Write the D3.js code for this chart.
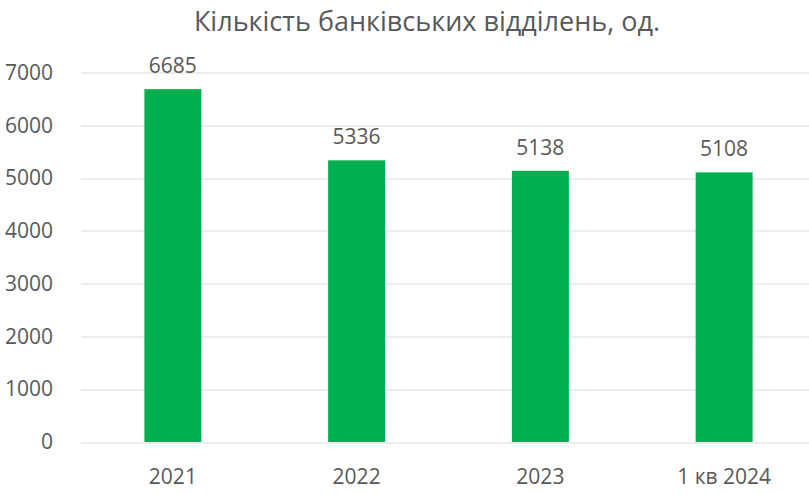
<!DOCTYPE html>
<html>
<head>
<meta charset="utf-8">
<script src="https://cdn.jsdelivr.net/npm/d3@7"></script>
<style>
  body { margin: 0; background: #fff; }
  text { font-family: "Open Sans", sans-serif; fill: #595959; }
</style>
</head>
<body>
<script>
var categories = ['2021', '2022', '2023', '1 кв 2024'];
var branches = [6685, 5336, 5138, 5108];
var yTicks = [0, 1000, 2000, 3000, 4000, 5000, 6000, 7000];
var title = 'Кількість банківських відділень, од.';

var width = 809, height = 494;
var margin = { top: 72.5, right: -7, bottom: 52, left: 81 };
var graphWidth = width - margin.left - margin.right;
var graphHeight = height - margin.top - margin.bottom;

var svg = d3.select('body')
  .append('svg')
  .attr('width', width)
  .attr('height', height);

svg.append('text')
  .attr('x', 427)
  .attr('y', 31)
  .attr('text-anchor', 'middle')
  .style('font-size', '27px')
  .text(title);

var mainGroup = svg.append('g')
  .attr('transform', 'translate(' + margin.left + ',' + margin.top + ')');

var bands = d3.scaleBand()
  .domain(categories)
  .range([0, graphWidth])
  .paddingInner(0.69)
  .paddingOuter(0.345);

var yScale = d3.scaleLinear()
  .domain([0, 7000])
  .range([graphHeight, 0]);

// gridlines
mainGroup.selectAll('line.grid')
  .data(yTicks)
  .enter()
  .append('line')
  .attr('class', 'grid')
  .attr('x1', 0)
  .attr('x2', graphWidth)
  .attr('y1', function(d) { return Math.round(yScale(d)) + 0.5; })
  .attr('y2', function(d) { return Math.round(yScale(d)) + 0.5; })
  .attr('stroke', '#d9d9d9')
  .attr('stroke-width', 1);

// left axis labels
var leftAxis = d3.axisLeft(yScale)
  .tickValues(yTicks)
  .tickFormat(d3.format('d'))
  .tickSize(0)
  .tickPadding(28);
var leftAxisNodes = mainGroup.append('g').call(leftAxis);
leftAxisNodes.select('.domain').remove();
leftAxisNodes.selectAll('text')
  .attr('fill', '#595959')
  .style('font-size', '21px')
  .style('font-family', '"Open Sans", sans-serif');

// bars
var barGroup = mainGroup.selectAll('g.bar')
  .data(branches)
  .enter()
  .append('g')
  .attr('class', 'bar')
  .attr('transform', function(d, i) { return 'translate(' + bands(categories[i]) + ',0)'; });

barGroup.append('rect')
  .attr('y', function(d) { return yScale(d); })
  .attr('width', bands.bandwidth())
  .attr('height', function(d) { return graphHeight - yScale(d); })
  .attr('fill', '#00b050');

barGroup.append('text')
  .attr('x', bands.bandwidth() / 2)
  .attr('y', function(d) { return yScale(d) - 16; })
  .attr('text-anchor', 'middle')
  .style('font-size', '21px')
  .text(function(d) { return d; });

// bottom axis labels
var bottomAxis = d3.axisBottom(bands)
  .tickSize(0)
  .tickPadding(27);
var bottomAxisNodes = mainGroup.append('g')
  .attr('transform', 'translate(0,' + graphHeight + ')')
  .call(bottomAxis);
bottomAxisNodes.select('.domain').remove();
bottomAxisNodes.selectAll('text')
  .attr('fill', '#595959')
  .style('font-size', '21px')
  .style('font-family', '"Open Sans", sans-serif');
</script>
</body>
</html>
